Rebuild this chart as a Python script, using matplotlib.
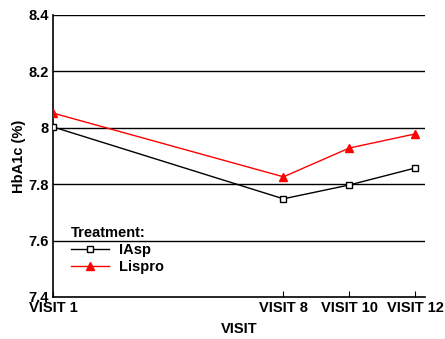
import matplotlib
matplotlib.use("Agg")
import matplotlib.pyplot as plt

visits = [1, 8, 10, 12]
visit_labels = ["VISIT 1", "VISIT 8", "VISIT 10", "VISIT 12"]
iasp = [8.003, 7.748, 7.797, 7.857]
lispro = [8.052, 7.826, 7.928, 7.978]

plt.rcParams['font.family'] = ['Liberation Sans', 'DejaVu Sans']
plt.rcParams['font.weight'] = 'bold'

fs = 10.5
fig = plt.figure(figsize=(4.45, 3.39), dpi=100)
ax = fig.add_axes([0.119, 0.124, 0.836, 0.832])

for y in [7.6, 7.8, 8.0, 8.2, 8.4]:
    ax.axhline(y, color='black', lw=1.0, zorder=1)

ax.plot(visits, iasp, color='black', lw=1.0, marker='s', ms=5,
        markerfacecolor='white', markeredgecolor='black', markeredgewidth=1.0,
        label='IAsp', zorder=3)
ax.plot(visits, lispro, color='red', lw=1.0, marker='^', ms=6,
        markerfacecolor='red', markeredgecolor='red', label='Lispro', zorder=3)

ax.set_xlim(1, 12.3)
ax.set_ylim(7.4, 8.4)
ax.set_xticks(visits)
ax.set_xticklabels(visit_labels, fontsize=fs, fontweight='bold')
ax.set_yticks([7.4, 7.6, 7.8, 8.0, 8.2, 8.4])
ax.set_yticklabels(["7.4", "7.6", "7.8", "8", "8.2", "8.4"], fontsize=fs, fontweight='bold')
ax.tick_params(axis='x', direction='in', length=4, pad=3)
ax.tick_params(axis='y', length=0, pad=3)
for sp in ['top', 'right']:
    ax.spines[sp].set_visible(False)
ax.spines['left'].set_linewidth(1.2)
ax.spines['bottom'].set_linewidth(1.2)

ax.set_xlabel("VISIT", fontsize=fs, fontweight='bold', labelpad=5)
ax.set_ylabel("HbA1c (%)", fontsize=fs, fontweight='bold', labelpad=2)

leg = ax.legend(title="Treatment:", loc='lower left', bbox_to_anchor=(0.02, 0.045),
                frameon=False, fontsize=fs, title_fontproperties={'weight': 'bold', 'size': fs},
                handlelength=2.6, handletextpad=0.7, labelspacing=0.2, borderpad=0.2)
leg._legend_box.align = 'left'

fig.savefig("out.png", dpi=100)
